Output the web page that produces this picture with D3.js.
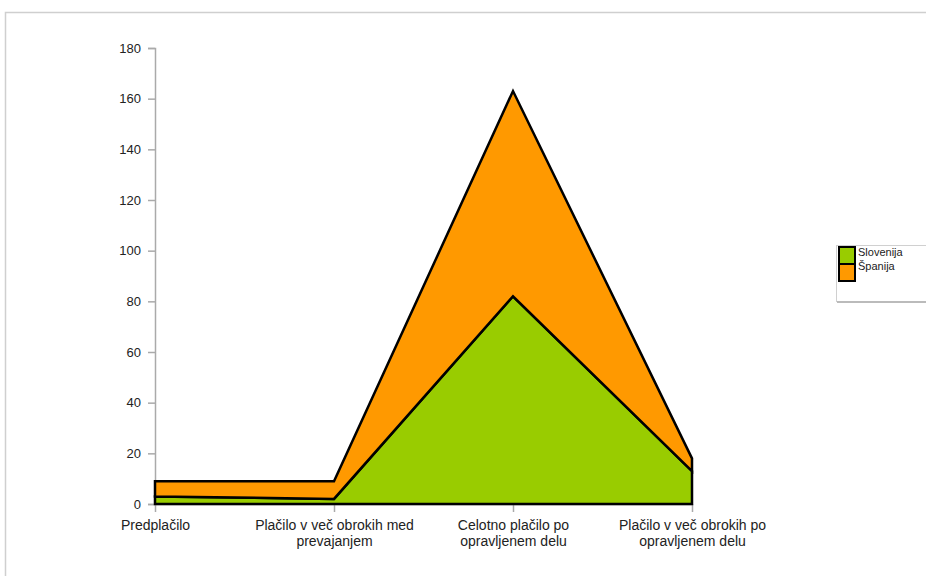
<!DOCTYPE html>
<html>
<head>
<meta charset="utf-8">
<script src="https://cdn.jsdelivr.net/npm/d3@7"></script>
<style>
  html, body { margin: 0; padding: 0; background: #fff; }
  svg { display: block; font-family: "Liberation Sans", Arial, sans-serif; }
</style>
</head>
<body>
<svg id="chart" width="926" height="576"></svg>
<script>
// Payment methods on the x axis
const categories = [
  "Predplačilo",
  "Plačilo v več obrokih med prevajanjem",
  "Celotno plačilo po opravljenem delu",
  "Plačilo v več obrokih po opravljenem delu"
];
// Stacked series (per cent of answers)
const seriesNames = ["Slovenija", "Španija"];
const slovenija = [3, 2, 82, 13];
const spanija = [6, 7, 81, 5];
const seriesColors = ["#99cc00", "#ff9900"];
const yTicks = [0, 20, 40, 60, 80, 100, 120, 140, 160, 180];

const svg = d3.select("#chart");

// outer frame
svg.append("rect")
  .attr("x", 5.5).attr("y", 12.5)
  .attr("width", 1000).attr("height", 700)
  .attr("fill", "none").attr("stroke", "#cfcfcf").attr("stroke-width", 1.5);

const plotLeft = 155, plotRight = 692, plotTop = 48, plotBottom = 504;

const x = d3.scalePoint().domain(categories).range([plotLeft, plotRight]);
const y = d3.scaleLinear().domain([0, 180]).range([plotBottom, plotTop]);

const rows = categories.map((c, i) => ({ cat: c, Slovenija: slovenija[i], "Španija": spanija[i] }));
const stacked = d3.stack().keys(seriesNames)(rows);

const area = d3.area()
  .x(d => x(d.data.cat))
  .y0(d => y(d[0]))
  .y1(d => y(d[1]));

// y axis
const yAxis = svg.append("g")
  .attr("transform", `translate(${plotLeft},0)`)
  .call(d3.axisLeft(y).tickValues(yTicks).tickSize(7).tickPadding(7).tickSizeOuter(7));
yAxis.select(".domain").attr("stroke", "#aaa").attr("stroke-width", 1.5);
yAxis.selectAll(".tick line").attr("stroke", "#aaa").attr("stroke-width", 1.5);
yAxis.selectAll(".tick text")
  .attr("fill", "#222").style("font-size", "13px")
  .style("font-family", "Liberation Sans, Arial, sans-serif");

// x axis
const xAxis = svg.append("g")
  .attr("transform", `translate(0,${plotBottom})`)
  .call(d3.axisBottom(x).tickSize(8).tickSizeOuter(0).tickPadding(8));
xAxis.select(".domain").attr("stroke", "#aaa").attr("stroke-width", 1.5);
xAxis.selectAll(".tick line").attr("stroke", "#aaa").attr("stroke-width", 1.5);
xAxis.selectAll(".tick text")
  .attr("fill", "#222").style("font-size", "14px")
  .style("font-family", "Liberation Sans, Arial, sans-serif")
  .each(function(d) {
    // wrap long labels onto two lines
    const t = d3.select(this);
    const words = d.split(" ");
    const lines = [];
    let line = [];
    t.text(null);
    const probe = t.append("tspan");
    words.forEach(w => {
      line.push(w);
      probe.text(line.join(" "));
      if (probe.node().getComputedTextLength() > 170 && line.length > 1) {
        line.pop();
        lines.push(line.join(" "));
        line = [w];
      }
    });
    lines.push(line.join(" "));
    probe.remove();
    lines.forEach((l, i) => {
      t.append("tspan").attr("x", 0).attr("dy", i === 0 ? "0.71em" : "1.15em").text(l);
    });
  });

// stacked areas
svg.append("g").selectAll("path")
  .data(stacked)
  .join("path")
  .attr("d", area)
  .attr("fill", (d, i) => seriesColors[i])
  .attr("stroke", "#000")
  .attr("stroke-width", 2.5)
  .attr("stroke-linejoin", "miter");

// legend
const lg = svg.append("g").attr("transform", "translate(836,245)");
lg.append("rect")
  .attr("x", 0.5).attr("y", 0.5).attr("width", 120).attr("height", 56)
  .attr("fill", "#fff").attr("stroke", "#d0d0d0").attr("stroke-width", 1);
lg.append("line")
  .attr("x1", 1).attr("x2", 121).attr("y1", 57).attr("y2", 57)
  .attr("stroke", "#bbb").attr("stroke-width", 2);
seriesNames.forEach((name, i) => {
  lg.append("rect")
    .attr("x", 3).attr("y", 2 + i * 17).attr("width", 16).attr("height", 17)
    .attr("fill", seriesColors[i]).attr("stroke", "#000").attr("stroke-width", 2);
  lg.append("text")
    .attr("x", 22).attr("y", 11 + i * 14)
    .attr("fill", "#222").style("font-size", "11px")
    .text(name);
});
</script>
</body>
</html>
